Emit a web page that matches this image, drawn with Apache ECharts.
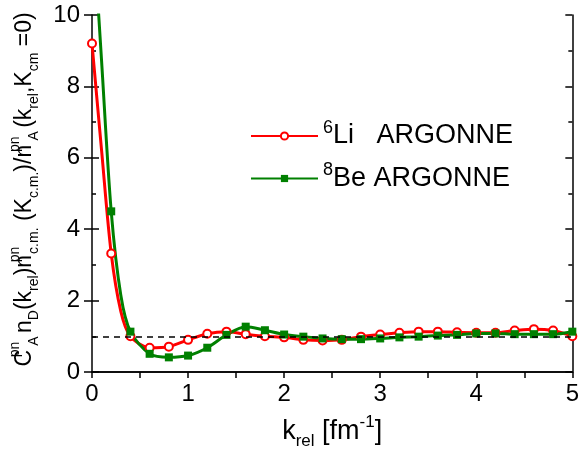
<!DOCTYPE html>
<html><head><meta charset="utf-8">
<script src="https://cdn.jsdelivr.net/npm/echarts@6/dist/echarts.min.js"></script>
<style>html,body{margin:0;padding:0;background:#fff}#c{width:582px;height:455px}</style>
</head><body><div id="c"></div>
<script>
// k_rel values (fm^-1); markers are drawn on multiples of 0.2
const kRel = [0, 0.1, 0.2, 0.3, 0.4, 0.6, 0.8, 1.0, 1.2, 1.4, 1.6, 1.8, 2.0, 2.2, 2.4, 2.6, 2.8, 3.0,
              3.2, 3.4, 3.6, 3.8, 4.0, 4.2, 4.4, 4.6, 4.8, 5.0];
const li6 = [9.2, 6.2, 3.32, 1.7, 1.0, 0.68, 0.71, 0.9, 1.07, 1.13, 1.06, 1.0, 0.97, 0.9, 0.88, 0.9, 0.99, 1.05,
             1.1, 1.13, 1.13, 1.11, 1.1, 1.1, 1.16, 1.2, 1.16, 1.0];
const be8 = [13.0, 8.7, 4.5, 2.15, 1.13, 0.51, 0.41, 0.46, 0.68, 1.04, 1.27, 1.17, 1.05, 0.99, 0.94, 0.92, 0.92, 0.94,
             0.97, 0.99, 1.02, 1.04, 1.08, 1.08, 1.06, 1.06, 1.06, 1.13];
const refLevel = 1;
const seriesNames = ['6Li ARGONNE', '8Be ARGONNE'];

const FONT = 'Arial, "Liberation Sans", sans-serif';
const chart = echarts.init(document.getElementById('c'), null, {renderer: 'canvas'});

function mk(vals, sym) {
  return kRel.map((x, i) => ({
    value: [x, vals[i]],
    symbol: (Math.round(x * 10) % 2 === 0) ? sym : 'none'
  }));
}

const axisLine = {show: true, lineStyle: {color: '#000', width: 1.5}};
const tickStyle = {color: '#000', width: 1.5};

const yName = '{m|C}{ss|pn}{sa|A}{m|n}{sub|D}{m|(k}{sub|rel}{m|)n}{ss|pn}{sub|c.m.}{m| (K}{sub|c.m.}{m|)/n}{ss|pn}{sa|A}{m|(k}{sub|rel}{m|,K}{sub|cm}{m| =0)}';
const xName = '{m|k}{sub|rel}{m| [fm}{sup|-1}{m|]}';

const richBase = {
  m: {fontSize: 23, fontFamily: FONT, color: '#000', lineHeight: 33},
  sup: {fontSize: 14, fontFamily: FONT, color: '#000', verticalAlign: 'top', lineHeight: 14},
  ss: {fontSize: 14, fontFamily: FONT, color: '#000', verticalAlign: 'top', lineHeight: 14, width: 1},
  sa: {fontSize: 14, fontFamily: FONT, color: '#000', verticalAlign: 'bottom', lineHeight: 14, width: 16},
  sub: {fontSize: 14, fontFamily: FONT, color: '#000', verticalAlign: 'bottom', lineHeight: 14}
};
const richX = {
  m: {fontSize: 27, fontFamily: FONT, color: '#000', lineHeight: 36},
  sup: {fontSize: 17, fontFamily: FONT, color: '#000', verticalAlign: 'top', lineHeight: 17},
  sub: {fontSize: 17, fontFamily: FONT, color: '#000', verticalAlign: 'bottom', lineHeight: 17}
};

chart.setOption({
  animation: false,
  backgroundColor: '#fff',
  grid: {left: 90, right: 7, top: 15, bottom: 79, containLabel: false},
  legend: {
    data: seriesNames,
    orient: 'vertical',
    left: 245, top: 114,
    itemWidth: 67, itemHeight: 9, itemGap: 12,
    formatter: n => n === seriesNames[0] ? '{sp|6}{t|Li   ARGONNE}' : '{sp|8}{t|Be ARGONNE}',
    textStyle: {
      rich: {
        t: {fontSize: 27, fontFamily: FONT, color: '#000', lineHeight: 34},
        sp: {fontSize: 18, fontFamily: FONT, color: '#000', verticalAlign: 'top', lineHeight: 18}
      }
    }
  },
  xAxis: [{
    type: 'value', min: 0, max: 5, interval: 1, position: 'bottom',
    axisLine, axisTick: {show: true, inside: false, length: 6, lineStyle: tickStyle},
    minorTick: {show: true, splitNumber: 2, length: 4, lineStyle: tickStyle},
    splitLine: {show: false},
    axisLabel: {fontSize: 24, fontFamily: FONT, color: '#000', margin: 10},
    name: xName, nameLocation: 'middle', nameGap: 42,
    nameTextStyle: {rich: richX}
  }, {
    type: 'value', min: 0, max: 5, interval: 1, position: 'top',
    axisLine, axisTick: {show: true, inside: true, length: 6, lineStyle: tickStyle},
    minorTick: {show: true, splitNumber: 2, length: 6, lineStyle: tickStyle},
    splitLine: {show: false}, axisLabel: {show: false}
  }],
  yAxis: [{
    type: 'value', min: 0, max: 10, interval: 2, position: 'left',
    axisLine, axisTick: {show: true, inside: false, length: 8, lineStyle: tickStyle},
    minorTick: {show: false},
    splitLine: {show: false},
    axisLabel: {fontSize: 24, fontFamily: FONT, color: '#000', margin: 12},
    name: yName, nameLocation: 'middle', nameRotate: 90, nameGap: 51,
    nameTextStyle: {rich: richBase, padding: [0, 0, 0, 8]}
  }, {
    type: 'value', min: 0, max: 10, interval: 2, position: 'left',
    axisLine: {show: false}, axisTick: {show: true, inside: true, length: 7, lineStyle: tickStyle},
    minorTick: {show: true, splitNumber: 2, length: 4, lineStyle: tickStyle},
    splitLine: {show: false}, axisLabel: {show: false}
  }, {
    type: 'value', min: 0, max: 10, interval: 2, position: 'right',
    axisLine, axisTick: {show: true, inside: true, length: 7, lineStyle: tickStyle},
    minorTick: {show: true, splitNumber: 2, length: 4, lineStyle: tickStyle},
    splitLine: {show: false}, axisLabel: {show: false}
  }],
  series: [{
    type: 'line', name: '__ref', data: [], silent: true,
    markLine: {
      silent: true, symbol: ['none', 'none'], label: {show: false},
      lineStyle: {color: '#000', width: 1.5, type: [6, 5]},
      data: [{yAxis: refLevel}]
    }
  }, {
    type: 'line', name: seriesNames[0], data: mk(li6, 'emptyCircle'),
    symbol: 'emptyCircle',
    smooth: 0.3, symbolSize: 8, showAllSymbol: true,
    lineStyle: {color: '#ff0000', width: 3},
    itemStyle: {color: '#ff0000', borderWidth: 1.3}
  }, {
    type: 'line', name: seriesNames[1], data: mk(be8, 'rect'),
    symbol: 'rect',
    smooth: 0.3, symbolSize: 8, showAllSymbol: true,
    lineStyle: {color: '#008000', width: 3},
    itemStyle: {color: '#008000'}
  }]
});
</script></body></html>
